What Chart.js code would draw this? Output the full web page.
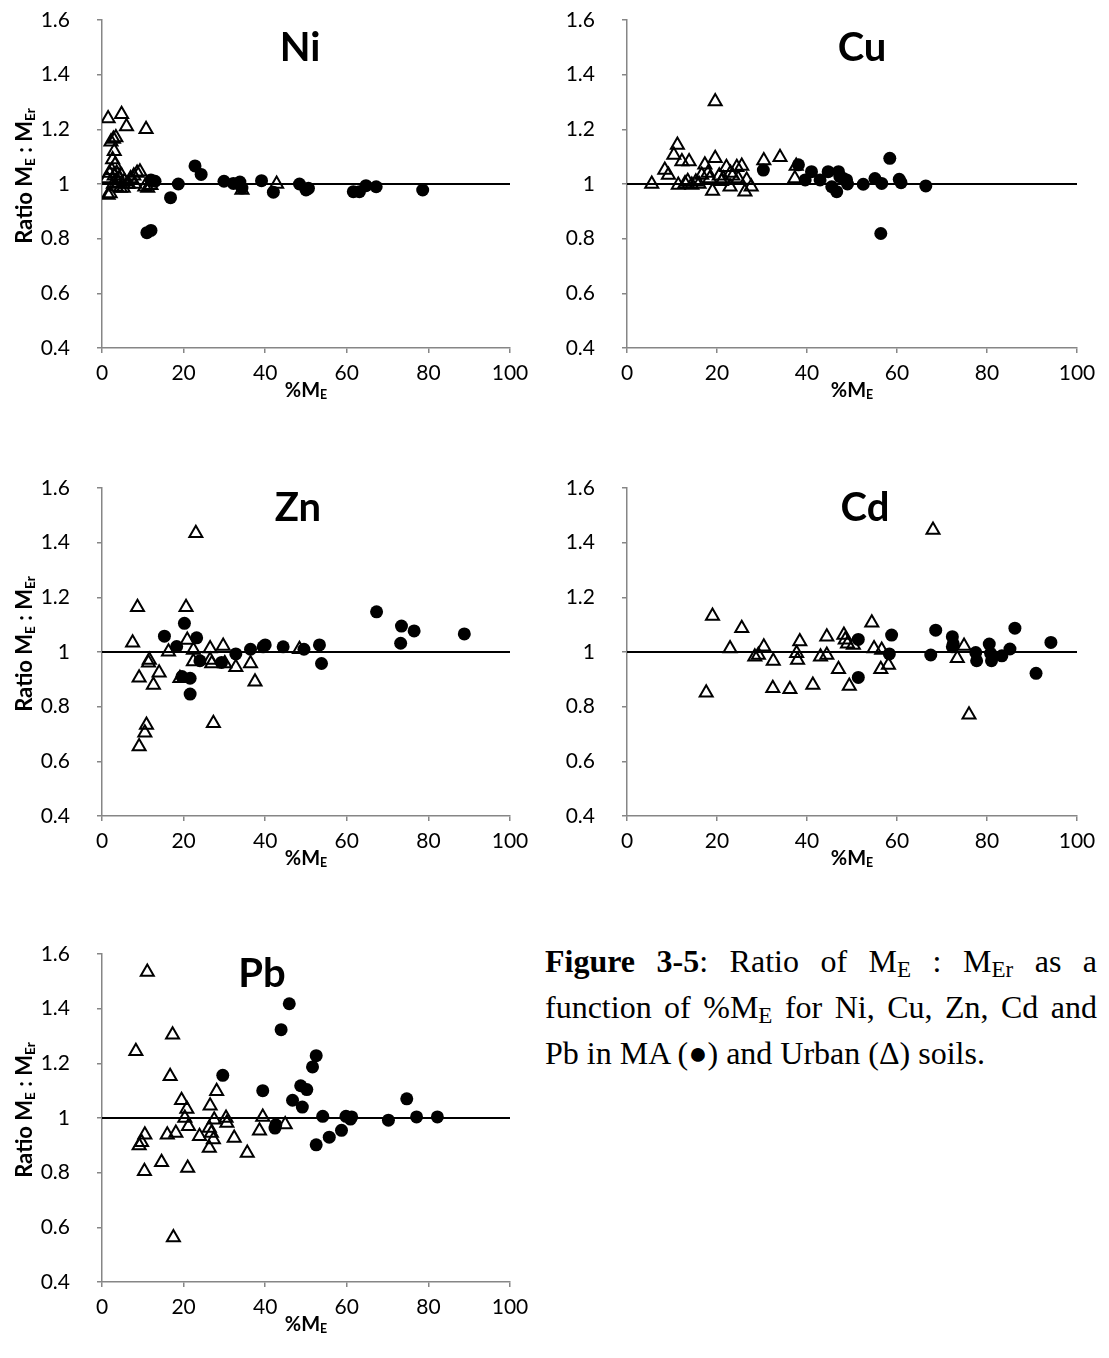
<!DOCTYPE html>
<html><head><meta charset="utf-8">
<script src="https://cdn.jsdelivr.net/npm/chart.js@4.4.0/dist/chart.umd.min.js"></script>
<style>
html,body{margin:0;padding:0;background:#fff;}
body{width:1109px;height:1358px;position:relative;overflow:hidden;font-family:Lato,sans-serif;color:#000;}
canvas{position:absolute;}
.ptitle{position:absolute;font-family:Lato,sans-serif;font-weight:bold;font-size:40px;transform:translate(-50%,-50%);white-space:nowrap;line-height:1;}
.xtitle{position:absolute;font-weight:bold;font-size:20px;transform:translate(-50%,-50%);white-space:nowrap;line-height:1;}
.ytitle{position:absolute;transform:translate(-50%,-50%) rotate(-90deg);font-weight:bold;font-size:22px;white-space:nowrap;line-height:1;}
.xtitle sub,.ytitle sub{font-size:0.62em;vertical-align:-0.2em;line-height:0;}
#caption{position:absolute;left:545px;top:938px;width:552px;font-family:"Liberation Serif","Times New Roman",serif;font-size:32px;line-height:46px;text-align:justify;}
#caption sub{font-size:0.72em;vertical-align:-0.22em;line-height:0;}
</style>
</head><body>
<canvas id="cNi" width="540" height="430" style="left:0;top:-30px"></canvas>
<canvas id="cCu" width="580" height="430" style="left:527px;top:-30px"></canvas>
<canvas id="cZn" width="540" height="430" style="left:0;top:438px"></canvas>
<canvas id="cCd" width="580" height="430" style="left:527px;top:438px"></canvas>
<canvas id="cPb" width="540" height="430" style="left:0;top:904px"></canvas>

<div class="ptitle" style="left:300px;top:46px">Ni</div>
<div class="ptitle" style="left:862px;top:46px">Cu</div>
<div class="ptitle" style="left:298px;top:506px">Zn</div>
<div class="ptitle" style="left:865px;top:506px">Cd</div>
<div class="ptitle" style="left:262px;top:972px">Pb</div>

<div class="xtitle" style="left:306px;top:389px">%M<sub>E</sub></div>
<div class="xtitle" style="left:852px;top:389px">%M<sub>E</sub></div>
<div class="xtitle" style="left:306px;top:857px">%M<sub>E</sub></div>
<div class="xtitle" style="left:852px;top:857px">%M<sub>E</sub></div>
<div class="xtitle" style="left:306px;top:1323px">%M<sub>E</sub></div>

<div class="ytitle" style="left:24px;top:176px">Ratio M<sub>E</sub> : M<sub>Er</sub></div>
<div class="ytitle" style="left:24px;top:644px">Ratio M<sub>E</sub> : M<sub>Er</sub></div>
<div class="ytitle" style="left:24px;top:1110px">Ratio M<sub>E</sub> : M<sub>Er</sub></div>

<div id="caption"><b>Figure 3-5</b>: Ratio of M<sub>E</sub> : M<sub>Er</sub> as a function of %M<sub>E</sub> for Ni, Cu, Zn, Cd and Pb in MA (●) and Urban (Δ) soils.</div>

<script>
// ---- Data (x = %M_E, y = ratio M_E : M_Er) ----
const niMaX = [11.0,12.0,12.0,13.0,16.8,18.7,22.8,24.3,29.9,32.2,33.8,34.3,39.1,42.0,48.4,50.0,50.6,61.6,63.1,64.7,67.2,78.6];
const niMaY = [0.822,0.83,1.015,1.01,0.95,1.0,1.066,1.035,1.01,1.002,1.007,0.985,1.012,0.97,1.0,0.978,0.984,0.972,0.972,0.994,0.99,0.978];
const niUrbanX = [1.5,4.8,6.0,10.8,2.2,2.8,3.4,3.0,2.6,3.2,1.2,1.8,2.4,3.0,3.6,4.2,4.8,5.5,6.2,7.0,7.8,8.6,9.3,1.5,2.0,2.8,3.5,4.5,5.2,6.5,10.5,11.2,12.0,4.0,8.0,34.3,42.8];
const niUrbanY = [1.24,1.255,1.21,1.2,1.155,1.165,1.17,1.12,1.09,1.07,1.02,1.04,1.05,1.03,1.04,1.02,1.03,1.01,1.0,1.02,1.03,1.04,1.045,0.96,0.965,1.0,0.99,0.985,0.985,1.0,0.99,0.985,0.995,1.005,1.0,0.978,1.0];

const cuMaX = [30.3,38.1,39.6,41.0,42.9,44.7,45.5,46.6,47.0,47.3,48.1,48.8,49.0,52.5,55.1,56.6,56.4,58.4,60.5,60.9,66.4];
const cuMaY = [1.051,1.07,1.015,1.045,1.015,1.045,0.99,0.972,1.045,1.027,1.02,1.015,1.0,0.999,1.02,1.002,0.819,1.094,1.017,1.005,0.993];
const cuUrbanX = [5.5,8.4,9.2,10.4,11.2,11.4,12.2,12.9,13.8,14.4,15.3,16.0,16.6,17.3,18.4,19.0,19.6,19.6,20.5,21.4,22.1,22.9,23.5,24.4,24.7,25.5,26.2,26.6,27.6,30.4,34.0,37.3,37.6,13.5,18.0,21.0,23.0];
const cuUrbanY = [1.0,1.051,1.033,1.106,1.143,0.996,1.082,1.002,1.082,0.996,1.008,1.0,1.033,1.07,1.02,0.974,1.094,1.302,1.03,1.02,1.061,0.99,1.03,1.061,1.02,1.066,0.972,1.015,0.99,1.086,1.098,1.02,1.066,1.01,1.04,1.01,1.04];

const znMaX = [15.3,18.3,19.6,20.2,21.6,21.6,23.2,24.0,29.3,32.8,36.4,39.5,40.0,44.4,49.5,53.3,53.8,67.3,73.2,73.4,76.5,88.8];
const znMaY = [1.058,1.02,0.91,1.105,0.904,0.846,1.052,0.968,0.962,0.993,1.01,1.019,1.026,1.019,1.01,1.026,0.958,1.147,1.032,1.095,1.077,1.066];
const znUrbanX = [7.5,8.7,9.1,9.1,10.5,10.9,11.4,11.6,12.6,14.0,16.3,19.1,20.6,20.9,22.4,22.4,23.0,26.5,26.5,26.9,27.3,29.7,30.1,32.8,36.4,37.5,48.4];
const znUrbanY = [1.034,1.164,0.906,0.654,0.705,0.733,0.961,0.971,0.879,0.924,1.001,0.904,1.164,1.044,1.007,0.965,1.434,1.013,0.971,0.958,0.739,1.022,0.958,0.944,0.958,0.891,1.01];

const cdMaX = [51.4,51.4,58.3,58.8,67.5,68.6,72.3,72.3,72.5,77.5,77.7,80.5,80.8,81.0,83.3,85.1,86.2,90.9,94.2];
const cdMaY = [1.046,0.907,0.993,1.062,0.989,1.08,1.056,1.019,1.03,0.998,0.968,1.029,0.995,0.968,0.986,1.011,1.087,0.922,1.035];
const cdUrbanX = [17.6,19.0,22.9,25.5,28.4,29.2,30.4,32.4,32.5,36.2,37.7,37.9,38.4,41.3,43.0,44.4,44.4,47.0,48.2,48.5,49.0,49.4,50.3,54.4,54.9,56.4,56.6,58.1,68.0,73.4,74.9,76.0];
const cdUrbanY = [0.851,1.132,1.013,1.087,0.983,0.989,1.019,0.867,0.967,0.864,0.995,0.971,1.038,0.879,0.983,1.056,0.989,0.937,1.062,1.045,1.03,0.876,1.026,1.107,1.013,0.937,1.007,0.952,1.446,0.977,1.022,0.77];

const pbMaX = [29.6,39.4,42.4,42.6,43.9,45.9,46.7,48.7,49.1,50.2,51.6,52.5,52.5,54.1,55.7,58.7,59.8,60.9,61.2,70.2,74.7,77.1,82.2];
const pbMaY = [1.156,1.1,0.963,0.975,1.323,1.418,1.065,1.118,1.04,1.104,1.187,1.228,0.902,1.006,0.93,0.955,1.006,0.996,1.004,0.992,1.07,1.004,1.004];
const pbUrbanX = [8.3,9.1,9.7,10.4,10.5,11.1,14.6,16.0,16.7,17.3,17.5,18.1,19.5,20.3,20.8,21.0,21.2,23.9,26.3,26.3,26.5,26.8,27.3,27.5,28.1,30.4,30.6,32.4,35.6,38.6,39.4,44.9];
const pbUrbanY = [1.244,0.899,0.911,0.805,0.939,1.534,0.838,0.939,1.153,1.305,0.563,0.945,1.065,1.0,1.033,0.817,0.97,0.933,0.963,0.89,1.045,0.945,0.921,0.994,1.098,1.0,0.982,0.927,0.872,0.953,1.004,0.976];

const xTickStep = 20;
const yTickStep = 0.2;
const xRange = [0, 100];
const yRange = [0.4, 1.6];
const refRatio = 1;

function pts(xs, ys){ return xs.map((x,i)=>({x:x, y:ys[i]})); }

const AXIS_GRAY = '#868686';
function makePanel(id, maX, maY, urX, urY, yAxisW){
  const tickFont = {family:'Lato', size:21};
  new Chart(document.getElementById(id), {
    type:'scatter',
    data:{datasets:[
      {label:'Reference', data:[{x:xRange[0],y:refRatio},{x:xRange[1],y:refRatio}], showLine:true,
       borderColor:'#000', borderWidth:2, pointRadius:0, order:2},
      {label:'Urban', data:pts(urX,urY), pointStyle:'triangle', pointRadius:7.5,
       backgroundColor:'rgba(255,255,255,0)', borderColor:'#000', borderWidth:2, order:1},
      {label:'MA', data:pts(maX,maY), pointStyle:'circle', pointRadius:6.5,
       backgroundColor:'#000', borderColor:'#000', borderWidth:0, order:0}
    ]},
    options:{
      responsive:false, animation:false, devicePixelRatio:1,
      layout:{padding:{top:50,right:30,left:0,bottom:0}},
      plugins:{legend:{display:false}, tooltip:{enabled:false}},
      scales:{
        x:{type:'linear', min:xRange[0], max:xRange[1],
           ticks:{stepSize:xTickStep, font:tickFont, color:'#000', padding:8, maxRotation:0},
           grid:{drawOnChartArea:false, drawTicks:true, tickLength:5, color:AXIS_GRAY, lineWidth:1.5},
           border:{color:AXIS_GRAY, width:1.5},
           afterFit(s){ s.height = 52; }},
        y:{type:'linear', min:yRange[0], max:yRange[1],
           ticks:{stepSize:yTickStep, font:tickFont, color:'#000', padding:27,
                  callback:(v)=>String(Number(Number(v).toFixed(1)))},
           grid:{drawOnChartArea:false, drawTicks:true, tickLength:5, color:AXIS_GRAY, lineWidth:1.5},
           border:{color:AXIS_GRAY, width:1.5},
           afterFit(s){ s.width = yAxisW; }}
      }
    }
  });
}
makePanel('cNi', niMaX, niMaY, niUrbanX, niUrbanY, 102);
makePanel('cCu', cuMaX, cuMaY, cuUrbanX, cuUrbanY, 100);
makePanel('cZn', znMaX, znMaY, znUrbanX, znUrbanY, 102);
makePanel('cCd', cdMaX, cdMaY, cdUrbanX, cdUrbanY, 100);
makePanel('cPb', pbMaX, pbMaY, pbUrbanX, pbUrbanY, 102);
</script>
</body></html>
